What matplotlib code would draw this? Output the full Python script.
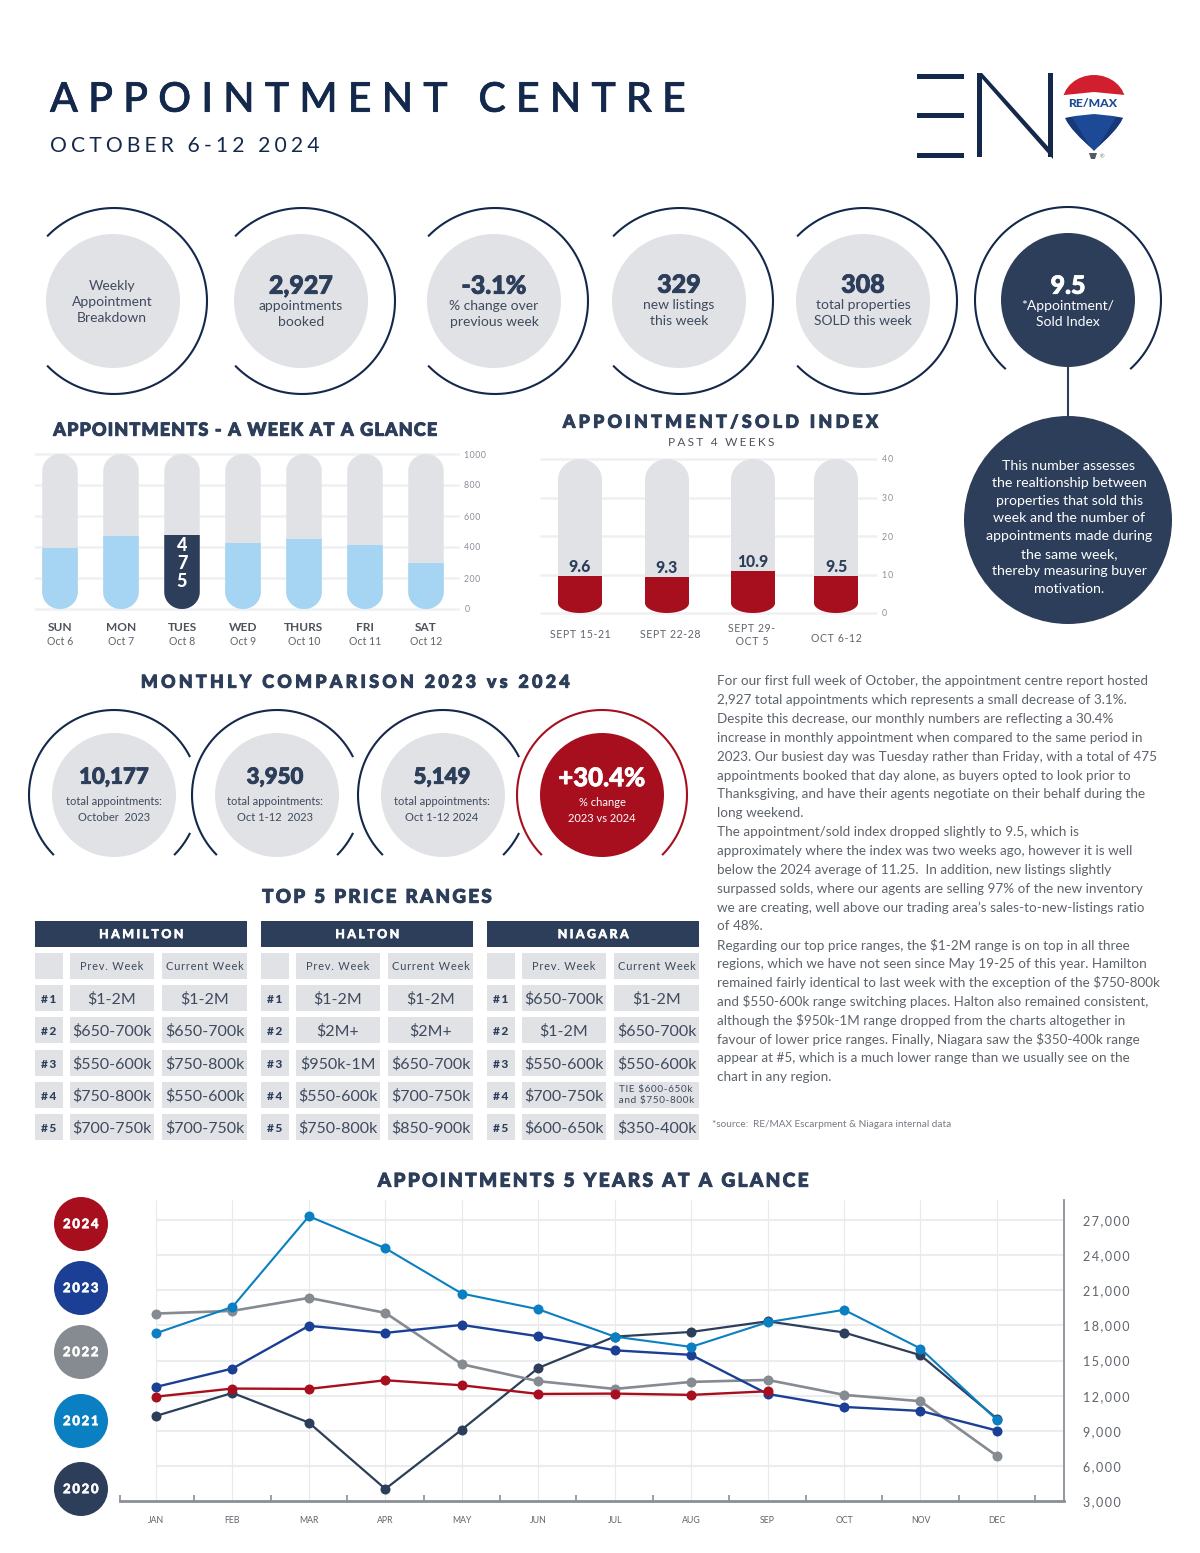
import numpy as np
import matplotlib
matplotlib.use('Agg')
import matplotlib.pyplot as plt
import matplotlib.patheffects as pe
from matplotlib.patches import Circle, Rectangle, PathPatch, Polygon
from matplotlib.path import Path

plt.rcParams['font.family'] = ['Lato', 'DejaVu Sans']

# week at a glance
days = ['SUN', 'MON', 'TUES', 'WED', 'THURS', 'FRI', 'SAT']
dates = ['Oct 6', 'Oct 7', 'Oct 8', 'Oct 9', 'Oct 10', 'Oct 11', 'Oct 12']
week_values = [396, 468, 475, 428, 449, 413, 298]

# appointment/sold index
index_labels = ['SEPT 15-21', 'SEPT 22-28', 'SEPT 29-\nOCT 5', 'OCT 6-12']
index_values = [9.6, 9.3, 10.9, 9.5]

# top 5 price ranges
hamilton_prev = ['$1-2M', '$650-700k', '$550-600k', '$750-800k', '$700-750k']
hamilton_curr = ['$1-2M', '$650-700k', '$750-800k', '$550-600k', '$700-750k']
halton_prev = ['$1-2M', '$2M+', '$950k-1M', '$550-600k', '$750-800k']
halton_curr = ['$1-2M', '$2M+', '$650-700k', '$700-750k', '$850-900k']
niagara_prev = ['$650-700k', '$1-2M', '$550-600k', '$700-750k', '$600-650k']
niagara_curr = ['$1-2M', '$650-700k', '$550-600k', 'TIE $600-650k\nand $750-800k', '$350-400k']

# 5 years
months = ['JAN', 'FEB', 'MAR', 'APR', 'MAY', 'JUN', 'JUL', 'AUG', 'SEP', 'OCT', 'NOV', 'DEC']
appts_2020 = [10270, 12240, 9700, 4030, 9100, 14370, 17050, 17450, 18360, 17400, 15460, 10040]
appts_2021 = [17340, 19590, 27340, 24600, 20730, 19390, 17050, 16170, 18280, 19340, 16030, 9930]
appts_2022 = [19020, 19250, 20360, 19080, 14690, 13240, 12580, 13180, 13350, 12070, 11530, 6850]
appts_2023 = [12750, 14320, 17970, 17370, 18050, 17080, 15880, 15490, 12150, 11040, 10700, 9020]
appts_2024 = [11920, 12610, 12580, 13320, 12890, 12150, 12180, 12070, 12380]

paragraph = [
    'For our first full week of October, the appointment centre report hosted',
    '2,927 total appointments which represents a small decrease of 3.1%.',
    'Despite this decrease, our monthly numbers are reflecting a 30.4%',
    'increase in monthly appointment when compared to the same period in',
    '2023. Our busiest day was Tuesday rather than Friday, with a total of 475',
    'appointments booked that day alone, as buyers opted to look prior to',
    'Thanksgiving, and have their agents negotiate on their behalf during the',
    'long weekend.',
    'The appointment/sold index dropped slightly to 9.5, which is',
    'approximately where the index was two weeks ago, however it is well',
    'below the 2024 average of 11.25.  In addition, new listings slightly',
    'surpassed solds, where our agents are selling 97% of the new inventory',
    'we are creating, well above our trading area\u2019s sales-to-new-listings ratio',
    'of 48%.',
    'Regarding our top price ranges, the $1-2M range is on top in all three',
    'regions, which we have not seen since May 19-25 of this year. Hamilton',
    'remained fairly identical to last week with the exception of the $750-800k',
    'and $550-600k range switching places. Halton also remained consistent,',
    'although the $950k-1M range dropped from the charts altogether in',
    'favour of lower price ranges. Finally, Niagara saw the $350-400k range',
    'appear at #5, which is a much lower range than we usually see on the',
    'chart in any region.',
]

NAVY = '#2d3e5a'
DEEP = '#14284b'
PALE = '#e0e2e6'
RED = '#a80f1e'
SKY = '#a5d5f3'
GRID = '#eff0f2'
TEXT = '#3f4a5c'
GREY = '#7d838b'
W, H = 1200, 1553

fig = plt.figure(figsize=(12, 15.53), dpi=100, facecolor='white')
bg = fig.add_axes([0, 0, 1, 1])
bg.set_xlim(0, W)
bg.set_ylim(H, 0)
bg.axis('off')


def track(s, n=1):
    return ('\u200a' * n).join(s)


def label(x, y, s, size=10, color=TEXT, weight='normal', ha='center', zorder=5, fat=0):
    t = bg.text(x, y + 1.2, s, fontsize=size, color=color, fontweight=weight, ha=ha,
                va='center', zorder=zorder)
    if fat:
        # Lato tops out lighter than the reference, so thicken with a stroke
        t.set_path_effects([pe.withStroke(linewidth=fat, foreground=color)])
    return t


def arc(cx, cy, r, a1, a2, color=DEEP, lw=1.5):
    t = np.radians(np.linspace(a1, a2, 200))
    bg.plot(cx + r * np.cos(t), cy - r * np.sin(t), color=color, lw=lw, solid_capstyle='butt')


def disc(cx, cy, r, color=PALE, zorder=2):
    bg.add_patch(Circle((cx, cy), r, facecolor=color, edgecolor='none', zorder=zorder))


def sub_axes(left, top, right, bottom):
    ax = fig.add_axes([left / W, 1 - bottom / H, (right - left) / W, (bottom - top) / H])
    ax.patch.set_alpha(0)
    return ax


def capsule(x, w, y0, y1, ry_bot, ry_top):
    # outline of a pill, in data units of the axes
    t = np.linspace(0, np.pi, 40)
    top_x = x + w / 2 * np.cos(t)
    top_y = y1 - ry_top + ry_top * np.sin(t)
    bot_x = x - w / 2 * np.cos(t)
    bot_y = y0 + ry_bot - ry_bot * np.sin(t)
    return Path(np.column_stack([np.r_[top_x, bot_x], np.r_[top_y, bot_y]]))


# header
label(50, 99, track('APPOINTMENT CENTRE', 4), size=29.5, color=DEEP, ha='left', weight='medium', fat=0.5)
label(50, 145, track('OCTOBER 6-12 2024', 3), size=15.2, color=DEEP, ha='left')

# logo
for y in [76, 115, 155]:
    bg.add_patch(Rectangle((917, y - 2.5), 47, 5, color=DEEP, lw=0))
bg.add_patch(Rectangle((977, 73), 5, 84, color=DEEP, lw=0))
bg.add_patch(Rectangle((1048, 73), 5, 84, color=DEEP, lw=0))
bg.add_patch(Polygon([(977, 73), (982, 73), (1053, 152), (1053, 159)], color=DEEP, lw=0))
balloon = Path([(1094, 151), (1085, 141), (1062, 125), (1062, 105), (1062, 86), (1078, 75),
                (1094, 75), (1110, 75), (1126, 86), (1126, 105), (1126, 125), (1103, 141),
                (1094, 151), (1094, 151)],
               [Path.MOVETO] + [Path.CURVE4] * 12 + [Path.CLOSEPOLY])
shape = PathPatch(balloon, facecolor='white', edgecolor='none', zorder=3)
bg.add_patch(shape)
for pts, col in [([(1055, 70), (1135, 70), (1135, 96), (1094, 92), (1055, 96)], '#d11f2f'),
                 ([(1055, 120), (1075, 116), (1094, 114), (1113, 116), (1135, 120), (1135, 155), (1055, 155)], '#1d4a96'),
                 ([(1055, 120), (1072, 117), (1092, 150), (1055, 155)], '#17397a'),
                 ([(1135, 120), (1116, 117), (1096, 150), (1135, 155)], '#17397a')]:
    p = Polygon(pts, facecolor=col, edgecolor='none', zorder=4)
    bg.add_patch(p)
    p.set_clip_path(shape)
label(1093, 102, 'RE/MAX', size=8.8, color='#1d4a96', weight='black', zorder=6)
bg.add_patch(Polygon([(1089, 153), (1097, 153), (1095, 159), (1091, 159)], color='#555a62', lw=0))
label(1102, 156, '\u00ae', size=4, color='#777777')

# top row of rings
stat_x = [113, 301, 494, 679, 863]
for cx in stat_x:
    arc(cx + 1, 301, 93, -136, 136)
    disc(cx, 301, 67)
label(112, 285, 'Weekly', 10)
label(112, 301, 'Appointment', 10)
label(112, 317, 'Breakdown', 10)
label(301, 285, '2,927', 18, NAVY, 'black', fat=0.6)
label(301, 305, 'appointments', 10)
label(301, 321, 'booked', 10)
label(494, 285, '-3.1%', 18, NAVY, 'black', fat=0.6)
label(494, 305, '% change over', 10)
label(494, 321, 'previous week', 10)
label(679, 284, '329', 18, NAVY, 'black', fat=0.6)
label(679, 304, 'new listings', 10)
label(679, 320, 'this week', 10)
label(863, 284, '308', 18, NAVY, 'black', fat=0.6)
label(863, 304, 'total properties', 10)
label(863, 320, 'SOLD this week', 10)

arc(1068, 300, 93, -48, 228)
disc(1068, 300, 67, NAVY)
label(1068, 285, '9.5', 18, 'white', 'black', fat=0.6)
label(1068, 305, '*Appointment/', 10, 'white')
label(1068, 321, 'Sold Index', 10, 'white')
bg.plot([1068, 1068], [366, 424], color=NAVY, lw=1.5)
disc(1068, 520, 104, NAVY)
blurb = ['This number assesses', 'the realtionship between', 'properties that sold this',
         'week and the number of', 'appointments made during', 'the same week,',
         'thereby measuring buyer', 'motivation.']
for i, line in enumerate(blurb):
    label(1069, 464.5 + i * 17.6, line, 10.2, 'white')

# week at a glance
label(245, 429, track('APPOINTMENTS - A WEEK AT A GLANCE', 1), 13, NAVY, 'black', fat=0.7)
ax = sub_axes(35, 440, 490, 620)
x_week = np.arange(len(days))
ax.set_xlim((35 - 60) / 61, (490 - 60) / 61)
per_px = 1000 / 155
ax.set_ylim(-(620 - 609) * per_px, (609 - 440) * per_px)
for v in range(0, 1001, 200):
    ax.plot([(35 - 60) / 61, (458 - 60) / 61], [v, v], color=GRID, lw=1.8, zorder=1)
bar_w = 35.5 / 61
for i, v in enumerate(week_values):
    outline = capsule(x_week[i], bar_w, 0, 1000, 17 * per_px, 17 * per_px)
    ax.add_patch(PathPatch(outline, facecolor=PALE, edgecolor='none', zorder=2))
    b = ax.bar(x_week[i], v, width=bar_w, color=NAVY if days[i] == 'TUES' else SKY, zorder=3)[0]
    b.set_clip_path(PathPatch(outline, transform=ax.transData))
    if days[i] == 'TUES':
        ax.text(x_week[i], v * 0.62, '\n'.join(str(v)), ha='center', va='center', color='white',
                fontsize=13, fontweight='black', linespacing=1.05, zorder=4)
ax.yaxis.tick_right()
ax.set_yticks(range(0, 1001, 200))
ax.tick_params(axis='y', length=0, pad=-18.5, labelsize=6.3, labelcolor='#8a8f96')
ax.set_yticklabels([track(str(v)) for v in range(0, 1001, 200)])
for t in ax.get_yticklabels():
    t.set_ha('left')
for s in ax.spines.values():
    s.set_visible(False)
ax.set_xticks([])
for i in x_week:
    cx = 60 + 61 * i
    label(cx, 626, days[i], 8.6, '#4d525b', 'bold')
    label(cx, 640, dates[i], 7.6, '#5f646c')

# index
label(721, 421, track('APPOINTMENT/SOLD INDEX', 3), 12.8, NAVY, 'black', fat=0.7)
label(721, 441, track('PAST 4 WEEKS', 3), 8.6, '#4d525b')
ax = sub_axes(540, 450, 900, 620)
x_index = [580, 667, 753, 836]
ax.set_xlim(540, 900)
per_px = 40 / 154
ax.set_ylim(-(620 - 613) * per_px, (613 - 450) * per_px)
ax.hlines(range(0, 41, 10), 540, 877, color=GRID, lw=1.8, zorder=1)
for x, v in zip(x_index, index_values):
    outline = capsule(x, 44, 0, 40, 10 * per_px, 21 * per_px)
    ax.add_patch(PathPatch(outline, facecolor=PALE, edgecolor='none', zorder=2))
    b = ax.bar(x, v, width=44, color=RED, zorder=3)[0]
    b.set_clip_path(PathPatch(outline, transform=ax.transData))
    ax.annotate(f'{v}', (x, v), xytext=(0, 6.5), textcoords='offset points', ha='center',
                va='center', fontsize=11.3, fontweight='black', color=NAVY, zorder=4)
ax.yaxis.tick_right()
ax.set_yticks(range(0, 41, 10))
ax.tick_params(axis='y', length=0, pad=-13, labelsize=6.3, labelcolor='#8a8f96')
ax.set_yticklabels([track(str(v), 2) for v in range(0, 41, 10)])
for t in ax.get_yticklabels():
    t.set_ha('left')
for s in ax.spines.values():
    s.set_visible(False)
ax.set_xticks([])
for cx, cy, s in zip([580, 670, 752, 836], [634, 634, 635, 638], index_labels):
    bg.text(cx, cy, track(s), fontsize=7.6, color='#5f646c', ha='center', va='center', linespacing=1.3)

# monthly comparison
label(356, 681, track('MONTHLY COMPARISON 2023 vs 2024', 3), 12.8, NAVY, 'black', fat=0.7)
month_x = [114, 277, 443, 602]
for cx in month_x[:3]:
    arc(cx, 795, 85, 26.5, 225)
    arc(cx, 795, 85, -45, -26.5)
    disc(cx, 795, 62)
arc(month_x[3], 795, 85, -45, 225, RED)
disc(month_x[3], 795, 62, RED)
for cx, big, l1, l2 in [(114, '10,177', 'total appointments:', 'October  2023'),
                        (275, '3,950', 'total appointments:', 'Oct 1-12  2023'),
                        (442, '5,149', 'total appointments:', 'Oct 1-12 2024')]:
    label(cx, 776, big, 16, NAVY, 'black', fat=0.6)
    label(cx, 800, l1, 8)
    label(cx, 816, l2, 8)
label(602, 777, '+30.4%', 18.5, 'white', 'black', fat=0.5)
label(602, 801, '% change', 8, 'white')
label(602, 817, '2023 vs 2024', 8, 'white')

# price tables
label(376, 896, track('TOP 5 PRICE RANGES', 2), 13.5, NAVY, 'black', fat=0.7)
tables = [('HAMILTON', hamilton_prev, hamilton_curr), ('HALTON', halton_prev, halton_curr),
          ('NIAGARA', niagara_prev, niagara_curr)]
row_top = [985, 1017, 1050, 1082, 1114]
for k, (name, prev, curr) in enumerate(tables):
    dx = 226 * k
    bg.add_patch(Rectangle((35 + dx, 921), 212, 26, color=NAVY, lw=0))
    label(141 + dx, 933, track(name, 3), 9, 'white', 'black', fat=0.3)
    cols = [(35, 28), (70, 84), (162, 85)]
    for cx0, cw in cols:
        bg.add_patch(Rectangle((cx0 + dx, 953), cw, 26, color=PALE, lw=0))
    label(112 + dx, 965, track('Prev. Week'), 8)
    label(204.5 + dx, 965, track('Current Week'), 8)
    for r, top in enumerate(row_top):
        for cx0, cw in cols:
            bg.add_patch(Rectangle((cx0 + dx, top), cw, 26, color=PALE, lw=0))
        label(49 + dx, top + 13, track(f'#{r + 1}', 2), 8.6, NAVY, 'black')
        label(112 + dx, top + 13, prev[r], 11.5)
        if '\n' in curr[r]:
            bg.text(204.5 + dx, top + 13, track(curr[r]), fontsize=7.2, color=TEXT, ha='center', va='center',
                    linespacing=1.2)
        else:
            label(204.5 + dx, top + 13, curr[r], 11.5)

# commentary
for i, line in enumerate(paragraph):
    label(717, 680 + i * 18.86, line, 9.7, '#5d636b', ha='left')
label(712, 1123, '*source:  RE/MAX Escarpment & Niagara internal data', 7.2, '#777c83', ha='left')

# 5 years
label(595, 1180, track('APPOINTMENTS 5 YEARS AT A GLANCE', 2), 13.7, NAVY, 'black', fat=0.7)
years = [('2024', 1224, RED), ('2023', 1288, '#1b3f95'), ('2022', 1352, '#858b91'),
         ('2021', 1421, '#0a7fc1'), ('2020', 1489, NAVY)]
for y_name, cy, col in years:
    disc(81, cy, 27, col)
    label(81, cy - 1, track(y_name, 2), 9.5, 'white', 'black', fat=0.3)

ax = sub_axes(120, 1200, 1064, 1501)
x_month = np.arange(len(months))
ax.set_xlim((120 - 156) / 76.45, (1064 - 156) / 76.45)
ax.set_ylim(3000, 3000 + 301 / 35.1 * 3000)
ticks = list(range(3000, 27001, 3000))
ax.hlines(ticks[1:], 0, (1064 - 156) / 76.45, color='#ebecee', lw=1.5, zorder=1)
ax.vlines(x_month, 3000, ax.get_ylim()[1], color='#e8e9eb', lw=0.8, zorder=1)
for vals, col, lw in [(appts_2020, NAVY, 1.6), (appts_2022, '#858b91', 1.9), (appts_2023, '#1b3f95', 1.7),
                      (appts_2024, RED, 1.7), (appts_2021, '#0a7fc1', 1.5)]:
    ax.plot(x_month[:len(vals)], vals, color=col, lw=lw, marker='o', ms=7.2, mew=0, zorder=3)
ax.set_xticks(x_month, months)
ax.set_xticks([-0.47] + (x_month[:-1] + 0.5).tolist() + [11.5], minor=True)
ax.tick_params(axis='x', which='major', length=0, pad=10.5, labelsize=6.3, labelcolor='#5f646c')
ax.tick_params(axis='x', which='minor', direction='in', length=4, width=1.2, color='#8a8f96')
ax.yaxis.tick_right()
ax.set_yticks(ticks)
ax.set_yticklabels([track(f'{v:,}', 2) for v in ticks])
ax.tick_params(axis='y', length=0, pad=14, labelsize=9, labelcolor='#5f646c')
for side in ['top', 'left']:
    ax.spines[side].set_visible(False)
ax.spines['right'].set_color('#8a8f96')
ax.spines['right'].set_linewidth(1.3)
ax.spines['bottom'].set_color('#8a8f96')
ax.spines['bottom'].set_linewidth(2)

fig.savefig('out.png', dpi=100, facecolor='white')
